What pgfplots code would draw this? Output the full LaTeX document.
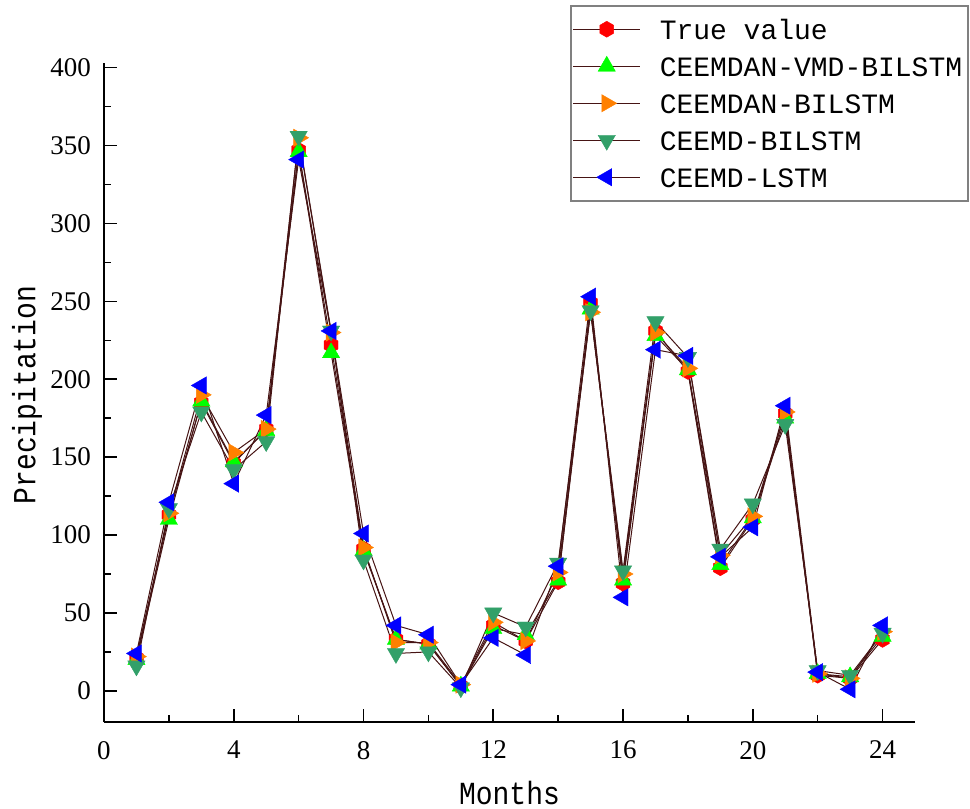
\documentclass[border=0pt]{standalone}
\usepackage{fontspec}
\setmainfont{Liberation Serif}
\newfontfamily\monofont{Liberation Mono}
\usepackage{graphicx}
\usepackage{pgfplots}
\usepackage{pgfplotstable}
\pgfplotsset{compat=1.18}
\definecolor{lineC}{RGB}{70,20,20}
\definecolor{cgreen}{RGB}{0,255,0}
\definecolor{corange}{RGB}{255,128,0}
\definecolor{csea}{RGB}{50,160,105}
\definecolor{cblue}{RGB}{0,0,255}
\pgfdeclareplotmark{hexagon*}{%
  \pgfpathmoveto{\pgfpointpolar{90}{\pgfplotmarksize}}%
  \pgfpathlineto{\pgfpointpolar{150}{\pgfplotmarksize}}%
  \pgfpathlineto{\pgfpointpolar{210}{\pgfplotmarksize}}%
  \pgfpathlineto{\pgfpointpolar{270}{\pgfplotmarksize}}%
  \pgfpathlineto{\pgfpointpolar{330}{\pgfplotmarksize}}%
  \pgfpathlineto{\pgfpointpolar{30}{\pgfplotmarksize}}%
  \pgfpathclose
  \pgfusepathqfillstroke}
\pgfplotstableread{
m  tv  cvb  cb  eb  el
1  21  20   22  16  24
2  113 110  114 117 121
3  185 186  190 179 196
4  146 147  153 142 133
5  168 167  168 160 177
6  347 346  355 356 341
7  222 217  230 231 231
8  91  90   92  84  101
9  33  33   31  24  42
10 30  30   31  25  36
11 3   3    4   2   4
12 42  40   44  50  34
13 32  36   32  41  23
14 70  71   76  82  80
15 249 245  243 244 253
16 69  71   75  77  60
17 231 228  230 237 219
18 205 206  207 214 215
19 79  81   87  91  86
20 110 111  112 120 105
21 178 175  179 171 183
22 10  11   11  13  12
23 8   9    8   10  1
24 33  35   38  37  42
}\datatab
\begin{document}
\begin{tikzpicture}
\useasboundingbox (-52pt,-43.5pt) rectangle (433pt,361pt);
\begin{axis}[
  scale only axis,
  width=405.5pt, height=329.5pt,
  xmin=0, xmax=25, ymin=-20, ymax=403,
  axis lines*=left,
  axis line style={line width=1.4pt, black},
  xtick={0,4,...,24}, ytick={0,50,...,400},
  minor x tick num=1, minor y tick num=1,
  tick align=inside,
  major tick length=6.3pt, minor tick length=3.5pt,
  every tick/.style={black, line width=0.8pt},
  tick label style={font=\fontsize{13.5}{15}\selectfont},
  /pgf/number format/assume math mode=true,
  yticklabel style={xshift=-3pt},
  xticklabel style={yshift=-6pt},
  xlabel={\scalebox{1}[1.15]{Months}}, ylabel={\scalebox{1}[1.15]{Precipitation}},
  label style={font=\monofont\fontsize{14}{16}\selectfont},
  xlabel style={at={(axis description cs:0.5,-0.108)}, anchor=center},
  ylabel style={at={(axis description cs:-0.095,0.496)}, anchor=center},
  legend style={at={(axis description cs:0.5746,1.088)}, anchor=north west,
    draw=gray, line width=0.75pt, inner xsep=1pt, inner ysep=2.5pt,
    font=\monofont\fontsize{14}{16}\selectfont,
    nodes={inner ysep=1pt, text height=13.5pt, text depth=3pt},
    row sep=0pt,
    /tikz/every odd column/.append style={column sep=7.5pt}},
  legend cell align=left,
  legend image code/.code={\draw[#1, mark repeat=2, mark phase=2]
    plot coordinates {(0pt,0pt)(16.75pt,0pt)(33.5pt,0pt)};},
  every axis plot/.append style={line width=0.5pt, color=lineC},
]
\addplot[lineC, mark=hexagon*, mark size=4pt, mark options={fill=red, draw=red, line width=0.2pt}] table[x=m,y=tv] {\datatab};
\addlegendentry{True value}
\addplot[lineC, mark=triangle*, mark size=5pt, mark options={fill=cgreen, draw=cgreen, line width=0.2pt}] table[x=m,y=cvb] {\datatab};
\addlegendentry{CEEMDAN-VMD-BILSTM}
\addplot[lineC, mark=triangle*, mark size=5pt, mark options={fill=corange, draw=corange, rotate=-90, line width=0.2pt}] table[x=m,y=cb] {\datatab};
\addlegendentry{CEEMDAN-BILSTM}
\addplot[lineC, mark=triangle*, mark size=5pt, mark options={fill=csea, draw=csea, rotate=180, line width=0.2pt}] table[x=m,y=eb] {\datatab};
\addlegendentry{CEEMD-BILSTM}
\addplot[lineC, mark=triangle*, mark size=5pt, mark options={fill=cblue, draw=cblue, rotate=90, line width=0.2pt}] table[x=m,y=el] {\datatab};
\addlegendentry{CEEMD-LSTM}
\end{axis}
\end{tikzpicture}
\end{document}
